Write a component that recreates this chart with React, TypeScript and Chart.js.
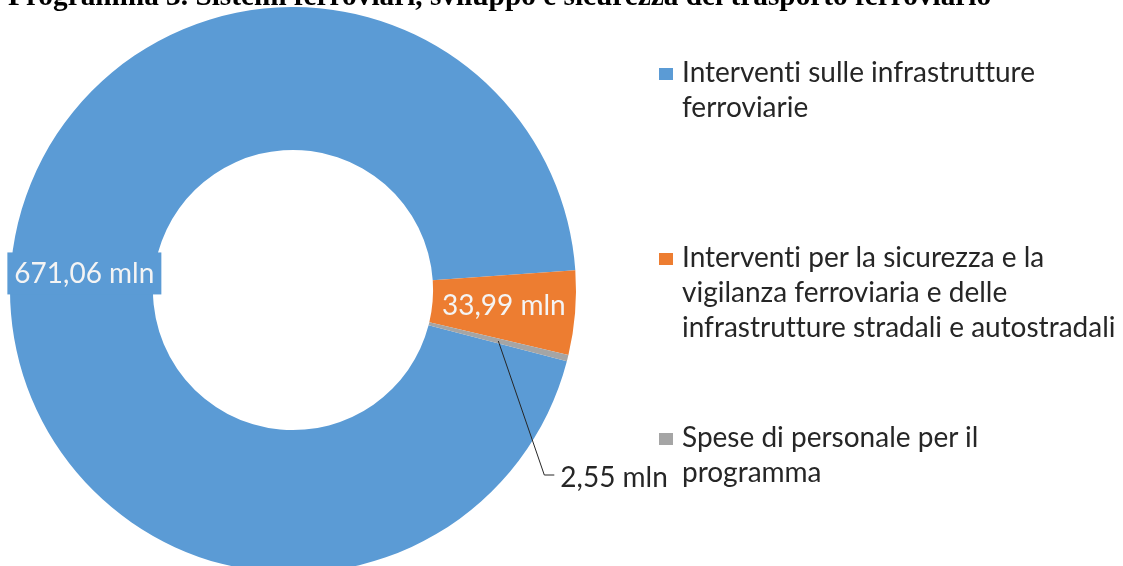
import React, { useEffect, useRef } from "react";
import { Chart, registerables } from "chart.js";

Chart.register(...registerables);

const title = "Programma 3. Sistemi ferroviari, sviluppo e sicurezza del trasporto ferroviario";
const categories = [
  "Interventi sulle infrastrutture ferroviarie",
  "Interventi per la sicurezza e la vigilanza ferroviaria e delle infrastrutture stradali e autostradali",
  "Spese di personale per il programma",
];
const legendLines = [
  ["Interventi sulle infrastrutture", "ferroviarie"],
  ["Interventi per la sicurezza e la", "vigilanza ferroviaria e delle", "infrastrutture stradali e autostradali"],
  ["Spese di personale per il", "programma"],
];
const values = [671.06, 33.99, 2.55];
const valueLabels = ["671,06 mln", "33,99 mln", "2,55 mln"];
const colors = ["#5B9BD5", "#ED7D31", "#A5A5A5"];

const FONT = "Lato, 'Noto Sans', sans-serif";
const FONT_SIZE = 28;
const TEXT_COLOR = "#262626";

const legendBaselines = [82, 267, 447];
const LINE_H = 35;

const labelPlugin = {
  id: "valueLabels",
  afterDatasetsDraw(chart: any) {
    const ctx = chart.ctx as CanvasRenderingContext2D;
    const meta = chart.getDatasetMeta(0);
    ctx.save();
    ctx.font = `${FONT_SIZE}px ${FONT}`;
    ctx.textBaseline = "middle";
    meta.data.forEach((arc: any, i: number) => {
      const p = arc.getCenterPoint();
      const text = valueLabels[i];
      const w = ctx.measureText(text).width;
      if (i === 0) {
        const cx = p.x + 2;
        const cy = p.y + 3;
        ctx.fillStyle = colors[0];
        ctx.fillRect(cx - w / 2 - 7, cy - 21, w + 14, 42);
        ctx.fillStyle = "#F4F4F4";
        ctx.textAlign = "center";
        ctx.fillText(text, cx, cy + 1);
      } else if (i === 1) {
        ctx.fillStyle = "#F4F4F4";
        ctx.textAlign = "center";
        ctx.fillText(text, p.x, p.y - 1);
      } else {
        ctx.strokeStyle = "#262626";
        ctx.lineWidth = 1;
        ctx.beginPath();
        ctx.moveTo(p.x, p.y);
        ctx.lineTo(p.x + 46, p.y + 134);
        ctx.lineTo(p.x + 56, p.y + 134);
        ctx.stroke();
        ctx.fillStyle = TEXT_COLOR;
        ctx.textAlign = "left";
        ctx.fillText(text, p.x + 62, p.y + 137);
      }
    });
    ctx.restore();
  },
};

export default function App() {
  const canvasRef = useRef<HTMLCanvasElement | null>(null);

  useEffect(() => {
    document.body.style.overflow = "hidden";
    const canvas = canvasRef.current;
    if (!canvas) return;
    const chart = new Chart(canvas, {
      type: "doughnut",
      data: {
        labels: categories,
        datasets: [
          {
            data: values,
            backgroundColor: colors,
            borderWidth: 0,
          },
        ],
      },
      options: {
        responsive: false,
        animation: false,
        rotation: 104.6,
        cutout: "49.5%",
        layout: { padding: { left: 10, top: 7, right: 547, bottom: 27 } },
        plugins: {
          legend: { display: false },
          tooltip: { enabled: false },
          title: { display: false },
        },
      },
      plugins: [labelPlugin],
    } as any);
    return () => chart.destroy();
  }, []);

  return (
    <div
      style={{
        position: "fixed",
        left: 0,
        top: 0,
        width: 1123,
        height: 566,
        overflow: "hidden",
        background: "#fff",
      }}
    >
      <canvas
        ref={canvasRef}
        width={1123}
        height={600}
        style={{ position: "absolute", left: 0, top: 0, width: 1123, height: 600 }}
      />
      <div
        style={{
          position: "absolute",
          left: 8,
          top: -19,
          fontFamily: "'Liberation Serif', 'Times New Roman', serif",
          fontWeight: "bold",
          fontSize: 29.3,
          lineHeight: "29px",
          whiteSpace: "nowrap",
          color: "#000",
        }}
      >
        {title}
      </div>
      {legendLines.map((lines, i) => (
        <React.Fragment key={i}>
          <div
            style={{
              position: "absolute",
              left: 659,
              top: legendBaselines[i] - 14,
              width: 14,
              height: 12,
              background: colors[i],
            }}
          />
          <div
            style={{
              position: "absolute",
              left: 682,
              top: legendBaselines[i] - 28,
              fontFamily: FONT,
              fontSize: FONT_SIZE,
              lineHeight: `${LINE_H}px`,
              color: TEXT_COLOR,
              whiteSpace: "nowrap",
              fontVariantLigatures: "none",
              fontFeatureSettings: "'liga' 0, 'clig' 0",
            }}
          >
            {lines.map((l, j) => (
              <div key={j}>{l}</div>
            ))}
          </div>
        </React.Fragment>
      ))}
    </div>
  );
}
